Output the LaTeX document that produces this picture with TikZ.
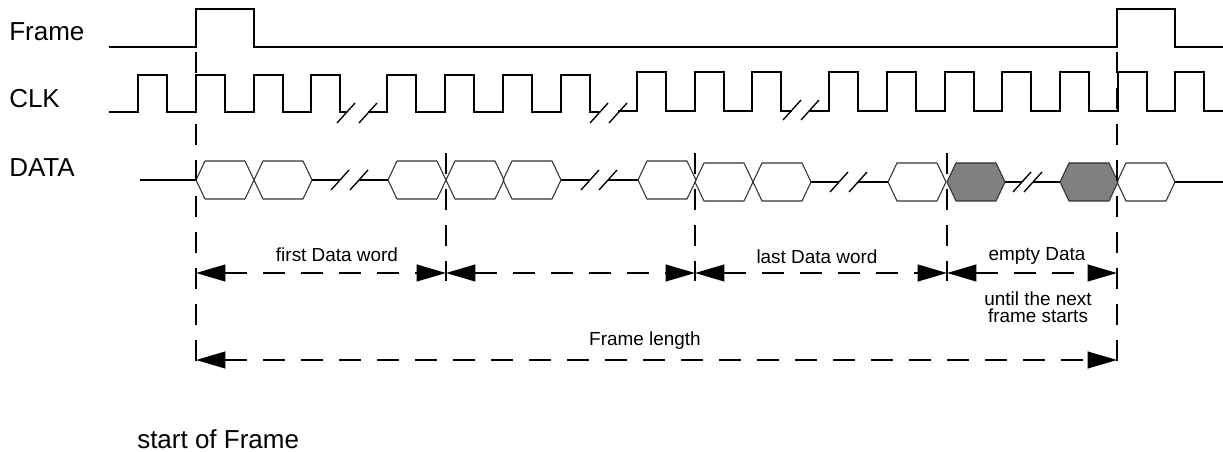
\documentclass[tikz,border=0pt]{standalone}
\usepackage{fontspec}
\setmainfont{Liberation Sans}
\usetikzlibrary{arrows.meta}
\newcommand\hexat[3]{\draw[#3] (#1,#2) -- ++(9,-19) -- ++(40,0) -- ++(9,19) -- ++(-9,19) -- ++(-40,0) -- cycle;}
\newcommand\brkmark[2]{\draw[brk] (#1-9,#2+10) -- (#1+9,#2-10);}
\begin{document}
\begin{tikzpicture}[x=0.75pt,y=-0.75pt,
  sig/.style={line width=1.5pt, line join=miter},
  hexa/.style={line width=0.8pt, draw=black!80},
  hexg/.style={hexa, fill=black!50},
  brk/.style={line width=1pt},
  marker/.style={line width=1.5pt, dash pattern=on 15.75pt off 11.25pt},
  dim/.style={line width=1.5pt, dash pattern=on 16.5pt off 12pt, <->, >={Triangle[length=22pt,width=12.5pt]}},
  biglbl/.style={font=\fontsize{19.5}{21}\selectfont, anchor=base west, inner sep=0pt},
  lbl/.style={font=\fontsize{14.2}{16}\selectfont, anchor=base, inner sep=0pt}
]
\useasboundingbox (0,0) rectangle (1223,452);

% labels
\node[biglbl] (lframe) at (9,41) {Frame};
\node[biglbl] (lclk) at (9,108) {CLK};
\node[biglbl] (ldata) at (9,177) {DATA};

% Frame signal
\draw[sig] (109,47) -- (196,47) -- (196,9) -- (254,9) -- (254,47) -- (1117,47) -- (1117,9) -- (1175,9) -- (1175,47) -- (1223,47);

% CLK signal
\draw[sig] (109,112) foreach \r in {138,196,254,311} { -- (\r,112) -- (\r,75) -- (\r+29,75) -- (\r+29,112) } -- (346,112);
\draw[sig] (368,112) foreach \r in {387,445,503,561} { -- (\r,112) -- (\r,75) -- (\r+29,75) -- (\r+29,112) } -- (599,112);
\draw[sig] (618,111) foreach \r in {637,695,752} { -- (\r,111) -- (\r,72) -- (\r+29,72) -- (\r+29,111) } -- (792,111);
\draw[sig] (810,111) foreach \r in {829,887,945,1002,1060,1118,1175} { -- (\r,111) -- (\r,72) -- (\r+29,72) -- (\r+29,111) } -- (1223,111);
\brkmark{346}{113}\brkmark{368}{113}
\brkmark{599}{113}\brkmark{618}{113}
\brkmark{792}{110}\brkmark{810}{110}

% DATA signal
\draw[sig] (140,180) -- (196,180);
\draw[sig] (312,180) -- (340,180);
\draw[sig] (359,180) -- (388,180);
\draw[sig] (561,180) -- (590,180);
\draw[sig] (608,180) -- (638,180);
\draw[sig] (811,182) -- (839,182);
\draw[sig] (858,182) -- (888,182);
\draw[sig] (1005,182) -- (1022,182);
\draw[sig] (1033,182) -- (1060,182);
\draw[sig] (1175,182) -- (1223,182);
\brkmark{340}{180}\brkmark{359}{180}
\brkmark{590}{180}\brkmark{608}{180}
\brkmark{839}{182}\brkmark{858}{182}
\brkmark{1022}{182}\brkmark{1033}{182}
\foreach \x in {196,254,388,446,503,638} {\hexat{\x}{180}{hexa}}
\foreach \x in {695,753,888,1117} {\hexat{\x}{182}{hexa}}
\foreach \x in {947,1060} {\hexat{\x}{182}{hexg}}

% marker lines
\coordinate (m0t) at (196,52);  \coordinate (m0b) at (196,370);
\coordinate (m1t) at (446,153); \coordinate (m1b) at (446,281);
\coordinate (m2t) at (695,153); \coordinate (m2b) at (695,281);
\coordinate (m3t) at (947,153); \coordinate (m3b) at (947,281);
\coordinate (m4t) at (1117,52); \coordinate (m4b) at (1117,370);
\foreach \m in {m0,m1,m2,m3,m4} {\draw[marker] (\m t) -- (\m b);}

% dimension arrows
\coordinate (a0) at (196,273);
\coordinate (a1) at (446,273);
\coordinate (a2) at (695,273);
\coordinate (a3) at (947,273);
\coordinate (a4) at (1117,273);
\draw[dim] (a0) -- (a1);
\draw[dim] (a1) -- (a2);
\draw[dim] (a2) -- (a3);
\draw[dim] (a3) -- (a4);
\coordinate (f0) at (196,360);
\coordinate (f1) at (1117,360);
\draw[dim] (f0) -- (f1);

% texts
\node[lbl] (t1) at (337,262) {first Data word};
\node[lbl] (t2) at (817,263) {last Data word};
\node[lbl] (t3) at (1037,260) {empty Data};
\node[lbl] (t4) at (1038,305) {until the next};
\node[lbl] (t5) at (1038,322) {frame starts};
\node[lbl] (t6) at (645,345) {Frame length};
\node[biglbl] (t7) at (137,448) {start of Frame};
\end{tikzpicture}
\end{document}
